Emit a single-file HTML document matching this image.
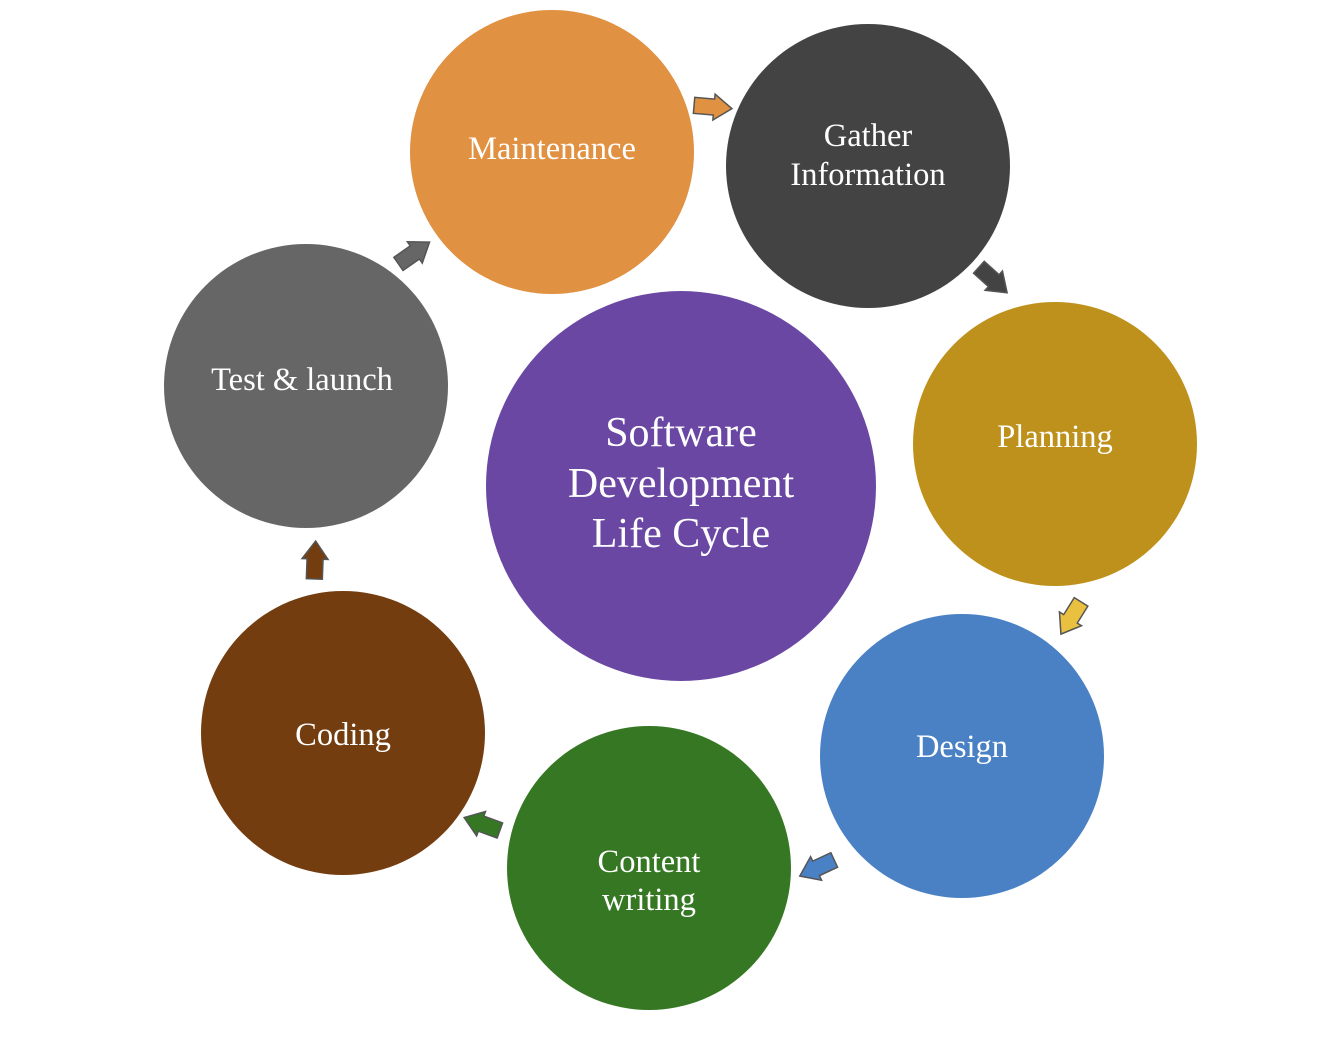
<!DOCTYPE html>
<html><head><meta charset="utf-8"><style>
html,body{margin:0;padding:0;background:#fff;}
svg{display:block}
text{font-family:"Liberation Serif",serif;fill:#fff;text-anchor:middle}
</style></head><body>
<svg width="1334" height="1050" viewBox="0 0 1334 1050">
<defs>
<polygon id="ar" points="-19,-8 1,-8 1,-13 19,0 1,13 1,8 -19,8" stroke="#555" stroke-width="1.5"/>
</defs>
<circle cx="552" cy="152" r="142" fill="#E09242"/>
<circle cx="868" cy="166" r="142" fill="#434343"/>
<circle cx="1055" cy="444" r="142" fill="#BD911C"/>
<circle cx="962" cy="756" r="142" fill="#4A81C4"/>
<circle cx="649" cy="868" r="142" fill="#367724"/>
<circle cx="343" cy="733" r="142" fill="#733D10"/>
<circle cx="306" cy="386" r="142" fill="#666666"/>
<circle cx="681" cy="486" r="195" fill="#6A47A3"/>

<use href="#ar" fill="#E09242" transform="translate(713,107) rotate(5)"/>
<use href="#ar" fill="#434343" transform="translate(993,280) rotate(42)"/>
<use href="#ar" fill="#E9C040" transform="translate(1071,618) rotate(122)"/>
<use href="#ar" fill="#4A81C4" transform="translate(817,868) rotate(155)"/>
<use href="#ar" fill="#367724" transform="translate(482,824) rotate(200)"/>
<use href="#ar" fill="#733D10" transform="translate(315,560) rotate(-88)"/>
<use href="#ar" fill="#666666" transform="translate(414,253) rotate(-35)"/>

<g font-size="32.5">
<text x="552" y="159">Maintenance</text>
<text x="868" y="146">Gather</text>
<text x="868" y="185">Information</text>
<text x="1055" y="447">Planning</text>
<text x="962" y="757">Design</text>
<text x="649" y="872">Content</text>
<text x="649" y="910">writing</text>
<text x="343" y="745">Coding</text>
<text x="302" y="390">Test &amp; launch</text>
</g>
<g font-size="42">
<text x="681" y="446">Software</text>
<text x="681" y="497">Development</text>
<text x="681" y="547">Life Cycle</text>
</g>
</svg>
</body></html>
